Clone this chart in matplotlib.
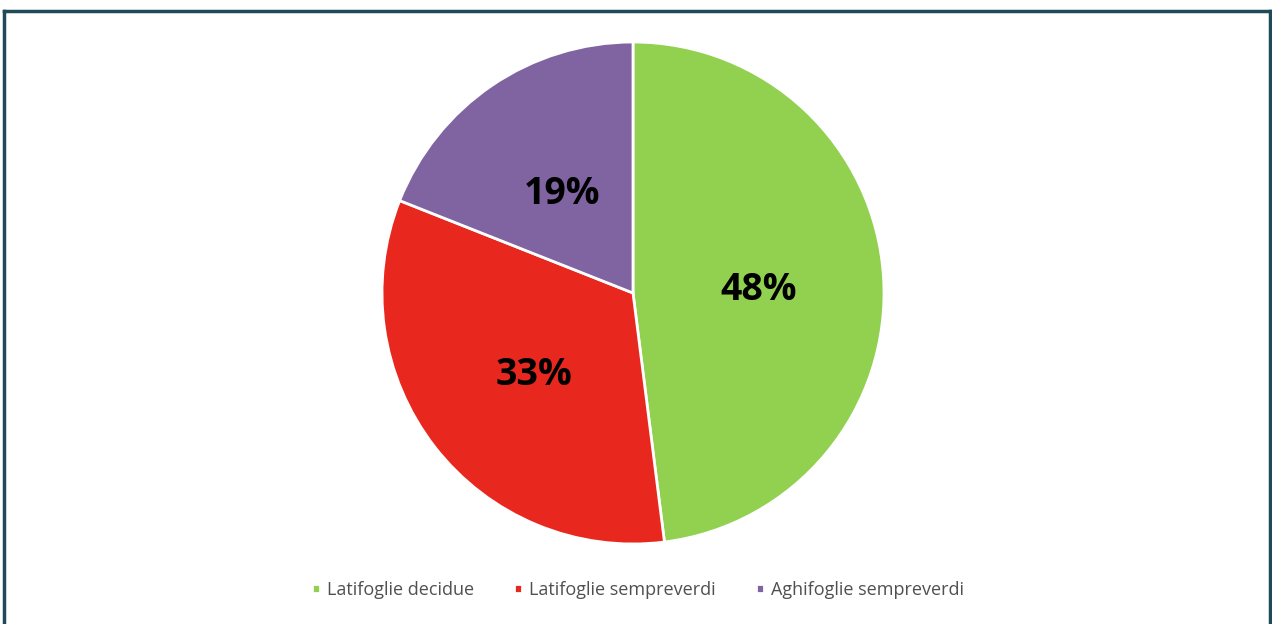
import matplotlib.pyplot as plt
from matplotlib.lines import Line2D

# Forest composition shares
categories = ['Latifoglie decidue', 'Latifoglie sempreverdi', 'Aghifoglie sempreverdi']
shares = [48, 33, 19]
colors = ['#92d050', '#e8281e', '#8064a2']

plt.rcParams['font.family'] = ['Open Sans', 'DejaVu Sans']

W, H = 1272, 624
fig = plt.figure(figsize=(W / 100, H / 100), dpi=100)
fig.patch.set_facecolor('white')

# Frame around the chart (top, left, right)
frame = '#1f4a58'
fig.add_artist(Line2D([4 / W, 1270 / W], [1 - 11 / H, 1 - 11 / H], color=frame, lw=2.5))
fig.add_artist(Line2D([4 / W, 4 / W], [0, 1 - 11 / H], color=frame, lw=2.5))
fig.add_artist(Line2D([1270 / W, 1270 / W], [0, 1 - 11 / H], color=frame, lw=2.5))

# Pie axes
cx, cy, r = 633, 293, 251
ax = fig.add_axes([(cx - r) / W, 1 - (cy + r) / H, 2 * r / W, 2 * r / H])
wedges, texts, autotexts = ax.pie(
    shares, colors=colors, startangle=90, counterclock=False,
    autopct='%d%%', pctdistance=0.5,
    wedgeprops=dict(edgecolor='white', linewidth=2),
    textprops=dict(fontsize=27, fontweight='bold', color='black'))
for t in autotexts:
    x, y = t.get_position()
    t.set_position((x, y - 0.02))
ax.set_xlim(-1, 1)
ax.set_ylim(-1, 1)
ax.set_aspect('equal')

fig.legend(wedges, categories, loc='center', bbox_to_anchor=(638 / W, 1 - 590 / H),
           ncol=3, frameon=False, handlelength=0.45, handleheight=0.45,
           handletextpad=0.4, columnspacing=2.2, fontsize=13, labelcolor='#505050')

fig.savefig('out.png', dpi=100, facecolor='white')
